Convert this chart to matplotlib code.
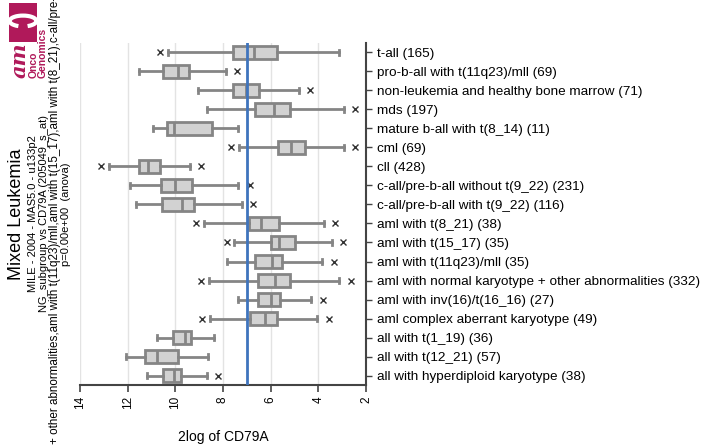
import matplotlib
matplotlib.use("Agg")
import matplotlib.pyplot as plt
from matplotlib.patches import Rectangle, Arc

plt.rcParams['font.family'] = ['Liberation Sans', 'DejaVu Sans']

labels = ["t-all (165)", "pro-b-all with t(11q23)/mll (69)",
          "non-leukemia and healthy bone marrow (71)", "mds (197)",
          "mature b-all with t(8_14) (11)", "cml (69)", "cll (428)",
          "c-all/pre-b-all without t(9_22) (231)", "c-all/pre-b-all with t(9_22) (116)",
          "aml with t(8_21) (38)", "aml with t(15_17) (35)", "aml with t(11q23)/mll (35)",
          "aml with normal karyotype + other abnormalities (332)",
          "aml with inv(16)/t(16_16) (27)", "aml complex aberrant karyotype (49)",
          "all with t(1_19) (36)", "all with t(12_21) (57)",
          "all with hyperdiploid karyotype (38)"]
whis_lo = [3.12, 7.86, 4.81, 2.94, 7.36, 2.91, 9.38, 7.35, 7.22, 3.75, 3.43, 3.84, 3.12, 4.29, 4.05, 8.38, 8.63, 8.66]
q1 =      [5.72, 9.44, 6.49, 5.17, 8.48, 4.56, 10.66, 9.32, 9.22, 5.65, 4.97, 5.53, 5.17, 5.61, 5.74, 9.34, 9.89, 9.76]
med =     [6.69, 9.89, 7.04, 5.86, 10.04, 5.14, 11.13, 10.01, 9.72, 6.41, 5.65, 5.96, 5.82, 5.97, 6.24, 9.58, 10.78, 10.07]
q3 =      [7.57, 10.50, 7.60, 6.67, 10.34, 5.68, 11.51, 10.62, 10.57, 6.93, 6.00, 6.67, 6.55, 6.52, 6.87, 10.11, 11.26, 10.50]
whis_hi = [10.31, 11.51, 9.05, 8.69, 10.92, 7.32, 12.80, 11.92, 11.64, 8.78, 7.53, 7.85, 8.60, 7.37, 8.56, 10.77, 12.08, 11.20]
fliers = [[10.63], [7.41], [4.37], [2.48], [], [2.45, 7.65], [8.92, 13.10], [6.87], [6.76],
          [3.28, 9.12], [2.96, 7.83], [3.36], [2.63, 8.92], [3.81], [3.57, 8.88], [], [], [8.21]]
threshold = 7.0
xticks = [14, 12, 10, 8, 6, 4, 2]

title = "Mixed Leukemia"
sub1 = "MILE - 2004 - MAS5.0 - u133p2"
sub2 = "NG_subgroup vs CD79A (205049_s_at)"
groups_sorted = sorted([l.rsplit(" (", 1)[0] for l in labels])
sub3 = ",".join(groups_sorted)
sub4 = "p=0.00e+00  (anova)"
xlabel = "2log of CD79A"

W, H = 704, 448
fig = plt.figure(figsize=(W / 100, H / 100), dpi=100)
ax = fig.add_axes([80 / W, 1 - 385 / H, (366 - 80) / W, (385 - 43) / H])

stats = []
for i in range(len(labels)):
    stats.append(dict(whislo=whis_lo[i], q1=q1[i], med=med[i], q3=q3[i],
                      whishi=whis_hi[i], fliers=fliers[i]))

edge = '#858585'
kw = dict(positions=list(range(len(labels))), widths=0.68, patch_artist=True,
          boxprops=dict(facecolor='#d2d2d2', edgecolor=edge, linewidth=2.0),
          medianprops=dict(color=edge, linewidth=2.0),
          whiskerprops=dict(color=edge, linewidth=2.0),
          capprops=dict(color=edge, linewidth=2.0),
          flierprops=dict(marker='x', markersize=3.8, markeredgecolor='#333333',
                          markeredgewidth=1.0),
          capwidths=0.25, zorder=3)
try:
    ax.bxp(stats, orientation='horizontal', **kw)
except TypeError:
    ax.bxp(stats, vert=False, **kw)

ax.axvline(threshold, color='#3f74bd', linewidth=2.0, zorder=4)

ax.set_xlim(14, 2)
ax.set_ylim(len(labels) - 0.5, -0.5)
ax.set_xticks(xticks)
ax.set_xticklabels([str(t) for t in xticks], rotation=90, fontsize=8.5)
for t in xticks[:-1]:
    ax.axvline(t, color='#e3e3e3', linewidth=1.0, zorder=0)

ax.yaxis.tick_right()
ax.set_yticks(range(len(labels)))
ax.set_yticklabels(labels, fontsize=9.7)
ax.tick_params(axis='y', length=4, width=1, color='#444444', pad=4)
ax.tick_params(axis='x', length=5, width=1.2, color='#444444', pad=3)
for s in ['top', 'left']:
    ax.spines[s].set_visible(False)
for s in ['right', 'bottom']:
    ax.spines[s].set_color('#444444')
    ax.spines[s].set_linewidth(1.5)

fig.text(223 / W, 1 - 437 / H, xlabel, ha='center', va='center', fontsize=10)

yc = 1 - 214 / H
fig.text(17 / W, yc, title, rotation=90, ha='center', va='center', fontsize=13)
fig.text(33 / W, yc, sub1, rotation=90, ha='center', va='center', fontsize=8)
fig.text(44 / W, yc, sub2, rotation=90, ha='center', va='center', fontsize=8)

# long group list: place so that "+ other abnormalities" starts near the bottom edge
fs3 = 8.4
renderer = fig.canvas.get_renderer()
prefix = sub3.split("+")[0]
tmp = fig.text(0, 0, prefix, rotation=90, fontsize=fs3)
pre_len = tmp.get_window_extent(renderer).height
tmp.remove()
plus_y = H - 444  # pixels from bottom
fig.text(55 / W, (plus_y - pre_len) / H, sub3, rotation=90, ha='center', va='bottom',
         fontsize=fs3)
fig.text(66 / W, yc, sub4, rotation=90, ha='center', va='center', fontsize=8)

# logo
mag = '#b0195a'
fig.patches.append(Rectangle((9 / W, 1 - 42 / H), 28 / W, 39 / H, transform=fig.transFigure,
                             facecolor=mag, edgecolor='none', zorder=5))
fig.patches.append(Arc((23 / W, 1 - 21 / H), 17 / W, 17 / H, theta1=30, theta2=330, angle=-90,
                       transform=fig.transFigure, color='white', linewidth=3, zorder=6))
fig.text(20 / W, 1 - 78 / H, "am", rotation=90, ha='center', va='bottom', fontsize=15,
         color=mag, family='DejaVu Serif', style='italic', fontweight='bold')
fig.text(33.5 / W, 1 - 78 / H, "Onco", rotation=90, ha='center', va='bottom', fontsize=7.5,
         color=mag, fontweight='bold')
fig.text(42.5 / W, 1 - 78 / H, "Genomics", rotation=90, ha='center', va='bottom', fontsize=7.5,
         color=mag, fontweight='bold')

fig.savefig("out.png", dpi=100)
